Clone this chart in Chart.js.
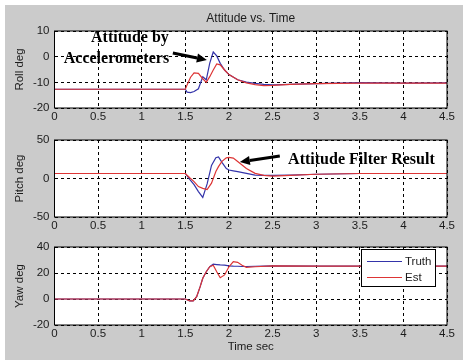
<!DOCTYPE html>
<html><head><meta charset="utf-8">
<script src="https://cdn.jsdelivr.net/npm/chart.js@4"></script>
<style>
html,body{margin:0;padding:0;background:#fff;width:463px;height:360px;overflow:hidden;}
#fig{position:absolute;left:5px;top:5px;width:458px;height:355px;background:#cbcbcb;}
canvas{position:absolute;left:0;}
</style></head><body>
<div id="fig"></div>
<canvas id="c1" width="463" height="120" style="top:0px"></canvas>
<canvas id="c2" width="463" height="110" style="top:120px"></canvas>
<canvas id="c3" width="463" height="130" style="top:230px"></canvas>
<script>
// ---- data ----
const seriesNames = ['Truth', 'Est'];
const xTicks = [0, 0.5, 1, 1.5, 2, 2.5, 3, 3.5, 4, 4.5];
const rollTicks = [-20, -10, 0, 10];
const pitchTicks = [-50, 0, 50];
const yawTicks = [-20, 0, 20, 40];

const timeRoll = [0, 1.5, 1.52, 1.56, 1.6, 1.65, 1.7, 1.74, 1.78, 1.82, 1.86, 1.9, 1.95, 2.0, 2.1, 2.2, 2.3, 2.4, 2.5, 2.7, 3.0, 3.5, 4.0, 4.5];
const rollTruth = [-12.7, -12.7, -13.8, -14.0, -13.6, -12.5, -7.8, -9.0, -2.5, 1.8, 0.3, -2.6, -5.2, -7.0, -9.0, -9.9, -10.4, -10.8, -11.0, -10.8, -10.5, -10.1, -10.3, -10.2];
const rollEst = [-12.7, -12.7, -11.0, -8.0, -6.3, -6.5, -8.6, -10.0, -7.8, -5.2, -2.8, -3.2, -5.2, -7.0, -9.0, -10.2, -10.9, -11.3, -11.2, -10.8, -10.5, -10.3, -10.3, -10.3];

const timePitch = [0, 1.5, 1.55, 1.6, 1.65, 1.7, 1.75, 1.8, 1.85, 1.88, 1.92, 1.97, 2.0, 2.05, 2.1, 2.2, 2.3, 2.4, 2.5, 2.7, 3.0, 3.5, 4.0, 4.5];
const pitchTruth = [6.5, 6.5, -1, -8, -17, -24.5, -7, 17, 27, 28, 21, 13, 11, 10, 9, 6.7, 4.5, 4, 4, 4.5, 5.5, 6.5, 6.5, 6.5];
const pitchEst = [6.5, 6.5, 1, -4, -10.5, -12.8, -14.5, -6, 9, 15.4, 22.2, 26.8, 27.5, 26.5, 22, 13, 6.7, 4, 3, 4, 5.5, 6.5, 6.5, 6.5];

const timeYaw = [0, 1.5, 1.55, 1.59, 1.63, 1.67, 1.7, 1.74, 1.78, 1.82, 1.86, 1.9, 1.95, 2.0, 2.05, 2.1, 2.15, 2.2, 2.3, 2.5, 3.0, 4.5];
const yawTruth = [0, 0, -1.5, -1.5, 1.8, 9.5, 16, 21, 24.8, 26.8, 26.5, 26.2, 26, 25.5, 25.3, 25.2, 25, 25, 25.2, 25.5, 25.3, 25.3];
const yawEst = [0, 0, -1.5, -1.5, 1.8, 9.5, 16, 21, 24.8, 26, 21, 16.4, 18.5, 24.8, 28.7, 28.2, 26, 24.4, 24.8, 25.5, 25.3, 25.3];

// ---- styles ----
const BLUE = '#3434aa';
const RED = '#dd3535';
const TXT = '#1c1c1c';
const SANS = "'Liberation Sans', Arial, sans-serif";
const SERIF = "'Liberation Serif', 'Times New Roman', serif";

const framePlugin = {
  id: 'frame',
  beforeDraw(chart) {
    const a = chart.chartArea, ctx = chart.ctx;
    ctx.save(); ctx.fillStyle = '#fff';
    ctx.fillRect(a.left, a.top, a.right - a.left, a.bottom - a.top);
    ctx.restore();
  },
  afterDraw(chart) {
    const a = chart.chartArea, ctx = chart.ctx;
    ctx.save(); ctx.strokeStyle = '#000'; ctx.lineWidth = 1;
    ctx.strokeRect(a.left, a.top, a.right - a.left, a.bottom - a.top);
    ctx.restore();
  }
};

const notesPlugin = {
  id: 'notes',
  afterDatasetsDraw(chart, args, opts) {
    const ctx = chart.ctx, xs = chart.scales.x, ys = chart.scales.y;
    ctx.save();
    (opts.texts || []).forEach(n => {
      ctx.font = 'bold 16px ' + SERIF;
      ctx.fillStyle = '#000';
      ctx.textAlign = 'center'; ctx.textBaseline = 'middle';
      ctx.fillText(n.text, xs.getPixelForValue(n.x), ys.getPixelForValue(n.y));
    });
    (opts.arrows || []).forEach(r => {
      const x0 = xs.getPixelForValue(r.from[0]), y0 = ys.getPixelForValue(r.from[1]);
      const x1 = xs.getPixelForValue(r.to[0]), y1 = ys.getPixelForValue(r.to[1]);
      const ang = Math.atan2(y1 - y0, x1 - x0), L = 10, W = 4.5;
      const bx = x1 - L * Math.cos(ang), by = y1 - L * Math.sin(ang);
      ctx.strokeStyle = '#000'; ctx.lineWidth = 3; ctx.lineCap = 'butt';
      ctx.beginPath(); ctx.moveTo(x0, y0); ctx.lineTo(bx, by); ctx.stroke();
      ctx.fillStyle = '#000'; ctx.beginPath();
      ctx.moveTo(x1, y1);
      ctx.lineTo(bx + W * Math.sin(ang), by - W * Math.cos(ang));
      ctx.lineTo(bx - W * Math.sin(ang), by + W * Math.cos(ang));
      ctx.closePath(); ctx.fill();
    });
    ctx.restore();
  }
};

const boxLegendPlugin = {
  id: 'boxLegend',
  afterDraw(chart, args, opts) {
    if (!opts.show) return;
    const a = chart.chartArea, ctx = chart.ctx;
    const w = 74, h = 37, left = a.right - 12 - w, top = a.top + 2;
    ctx.save();
    ctx.fillStyle = '#fff'; ctx.fillRect(left, top, w, h);
    ctx.strokeStyle = '#000'; ctx.lineWidth = 1;
    ctx.strokeRect(left + 0.5, top + 0.5, w, h);
    ctx.font = '11.5px ' + SANS; ctx.textBaseline = 'middle'; ctx.textAlign = 'left';
    chart.data.datasets.slice().sort((p, q) => seriesNames.indexOf(p.label) - seriesNames.indexOf(q.label)).forEach((ds, i) => {
      const y = top + 12.5 + i * 16;
      ctx.strokeStyle = ds.borderColor; ctx.beginPath();
      ctx.moveTo(left + 6, y); ctx.lineTo(left + 41, y); ctx.stroke();
      ctx.fillStyle = TXT; ctx.fillText(ds.label, left + 44, y + 0.5);
    });
    ctx.restore();
  }
};

function pts(ts, vs) { return ts.map((t, i) => ({ x: t, y: vs[i] })); }

function makeChart(id, c) {
  const tickFont = { family: SANS, size: 11.5 };
  return new Chart(document.getElementById(id), {
    type: 'line',
    data: {
      datasets: [
        { label: seriesNames[0], data: pts(c.t, c.truth), borderColor: BLUE, order: 1 },
        { label: seriesNames[1], data: pts(c.t, c.est), borderColor: RED, order: 0 }
      ]
    },
    options: {
      responsive: false, animation: false, devicePixelRatio: 1,
      elements: { line: { borderWidth: 1.2, tension: 0 }, point: { radius: 0 } },
      layout: { padding: { left: 5, right: 16, top: c.padTop, bottom: 0 } },
      plugins: {
        legend: { display: false }, tooltip: { enabled: false },
        title: c.title ? { display: true, text: c.title, fullSize: false, color: TXT,
          font: { family: SANS, size: 12, weight: 'normal' }, padding: { top: 11.8, bottom: 4.8 } } : { display: false },
        notes: { texts: c.texts || [], arrows: c.arrows || [] },
        boxLegend: { show: !!c.legend }
      },
      scales: {
        x: {
          type: 'linear', min: 0, max: 4.5,
          afterBuildTicks: s => { s.ticks = xTicks.map(v => ({ value: v })); },
          afterFit: s => { s.height = c.xH; },
          grid: { color: '#000', lineWidth: 1, drawTicks: false },
          border: { display: false, dash: [3, 3] },
          ticks: { padding: 2, font: tickFont, color: TXT, maxRotation: 0, autoSkip: false, callback: v => String(v) },
          title: c.xTitle ? { display: true, text: c.xTitle, color: TXT, font: { family: SANS, size: 11.5 }, padding: { top: 0, bottom: 6 } } : { display: false }
        },
        y: {
          type: 'linear', min: c.yTicks[0], max: c.yTicks[c.yTicks.length - 1],
          afterBuildTicks: s => { s.ticks = c.yTicks.map(v => ({ value: v })); },
          afterFit: s => { s.width = 49.5; },
          grid: { color: '#000', lineWidth: 1, drawTicks: false },
          border: { display: false, dash: [3, 3] },
          ticks: { padding: 5, font: tickFont, color: TXT, autoSkip: false, callback: v => String(v) },
          title: { display: true, text: c.yTitle, color: TXT, font: { family: SANS, size: 11.5 }, padding: { top: 8, bottom: 0 } }
        }
      }
    },
    plugins: [framePlugin, notesPlugin, boxLegendPlugin]
  });
}

makeChart('c1', {
  t: timeRoll, truth: rollTruth, est: rollEst, yTicks: rollTicks, yTitle: 'Roll deg',
  title: 'Attitude vs. Time', padTop: 0, xH: 12,
  texts: [{ text: 'Attitude by', x: 0.865, y: 7.3 }, { text: 'Accelerometers', x: 0.71, y: -0.9 }],
  arrows: [{ from: [1.357, 1.4], to: [1.747, -1.3] }]
});
makeChart('c2', {
  t: timePitch, truth: pitchTruth, est: pitchEst, yTicks: pitchTicks, yTitle: 'Pitch deg',
  padTop: 20, xH: 13,
  texts: [{ text: 'Attitude Filter Result', x: 3.519, y: 24 }],
  arrows: [{ from: [2.583, 29.2], to: [2.125, 21.4] }]
});
makeChart('c3', {
  t: timeYaw, truth: yawTruth, est: yawEst, yTicks: yawTicks, yTitle: 'Yaw deg',
  padTop: 17, xH: 35, xTitle: 'Time sec', legend: true
});
</script>
</body></html>
